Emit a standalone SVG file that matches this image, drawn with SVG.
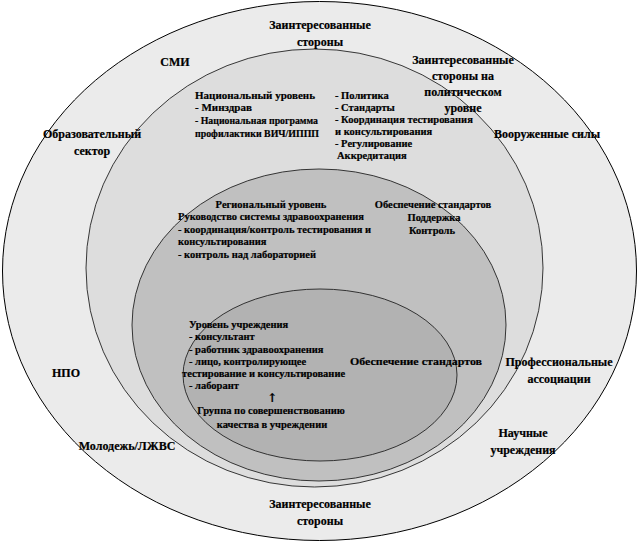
<svg xmlns="http://www.w3.org/2000/svg" width="639" height="543" viewBox="0 0 639 543">
<style>
text{font-family:"Liberation Serif","Times New Roman",serif;font-weight:bold;fill:#000;stroke:#000;stroke-width:0.2}
.o{font-size:12px;text-anchor:middle}
.n{font-size:11px}
.r{font-size:10.5px}
.c{text-anchor:middle}
.ring{stroke:#222;stroke-width:0.9}
.arr{font-family:"DejaVu Serif",serif;font-size:12px}
</style>
<rect width="639" height="543" fill="#fff"/>
<g id="stakeholders">
<ellipse cx="319.5" cy="271" rx="317" ry="269.5" fill="#ebebeb" stroke="#000" stroke-width="1"/>
</g>
<g id="national">
<ellipse class="ring" cx="314.5" cy="268" rx="228.5" ry="219" fill="#dddddd"/>
</g>
<g id="regional">
<ellipse class="ring" cx="319" cy="325" rx="187" ry="156" fill="#c0c0c0"/>
</g>
<g id="institution">
<ellipse class="ring" cx="320" cy="375" rx="137" ry="86" fill="#b2b2b2"/>
</g>
<g id="stakeholders-labels">
<text class="o" x="320" y="29">Заинтересованные</text>
<text class="o" x="320" y="46">стороны</text>
<text class="o" x="175" y="66">СМИ</text>
<text class="o" x="463" y="64">Заинтересованные</text>
<text class="o" x="463" y="80">стороны на</text>
<text class="o" x="463" y="96">политическом</text>
<text class="o" x="463" y="112">уровне</text>
<text class="o" x="92" y="138">Образовательный</text>
<text class="o" x="92" y="155">сектор</text>
<text class="o" x="547" y="138">Вооруженные силы</text>
<text class="o" x="66" y="377">НПО</text>
<text class="o" x="559" y="366">Профессиональные</text>
<text class="o" x="559" y="383">ассоциации</text>
<text class="o" x="127" y="450">Молодежь/ЛЖВС</text>
<text class="o" x="523" y="437">Научные</text>
<text class="o" x="523" y="454">учреждения</text>
<text class="o" x="320" y="508">Заинтересованные</text>
<text class="o" x="320" y="525">стороны</text>
</g>
<g id="national-labels">
<text class="n" x="195" y="99">Национальный уровень</text>
<text class="n" x="195" y="111">- Минздрав</text>
<text class="r" x="195" y="124" textLength="123" lengthAdjust="spacingAndGlyphs">- Национальная программа</text>
<text class="r" x="195" y="137" textLength="124" lengthAdjust="spacingAndGlyphs">профилактики ВИЧ/ИППП</text>
<text class="r" x="335" y="99">- Политика</text>
<text class="r" x="335" y="111">- Стандарты</text>
<text class="r" x="335" y="123">- Координация тестирования</text>
<text class="r" x="335" y="135">и консультирования</text>
<text class="r" x="335" y="147">- Регулирование</text>
<text class="r" x="337" y="159">Аккредитация</text>
</g>
<g id="regional-labels">
<text class="r c" x="271" y="208">Региональный уровень</text>
<text class="r" x="178" y="220">Руководство системы здравоохранения</text>
<text class="r" x="178" y="233">- координация/контроль тестирования и</text>
<text class="r" x="178" y="245">консультирования</text>
<text class="r" x="178" y="258">- контроль над лабораторией</text>
<text class="r c" x="433" y="208">Обеспечение стандартов</text>
<text class="r c" x="434" y="221">Поддержка</text>
<text class="r c" x="432" y="234">Контроль</text>
</g>
<g id="institution-labels">
<text class="r" x="189" y="328">Уровень учреждения</text>
<text class="r" x="189" y="340">- консультант</text>
<text class="r" x="189" y="353">- работник здравоохранения</text>
<text class="r" x="189" y="365">- лицо, контролирующее</text>
<text class="r" x="182" y="377">тестирование и консультирование</text>
<text class="r" x="189" y="389">- лаборант</text>
<text class="arr c" x="272" y="402">↑</text>
<text class="r c" x="271" y="414">Группа по совершенствованию</text>
<text class="r c" x="272" y="428">качества в учреждении</text>
<text class="r" x="350" y="365" textLength="132" lengthAdjust="spacingAndGlyphs">Обеспечение стандартов</text>
</g>
<g id="connectors"/>
</svg>
